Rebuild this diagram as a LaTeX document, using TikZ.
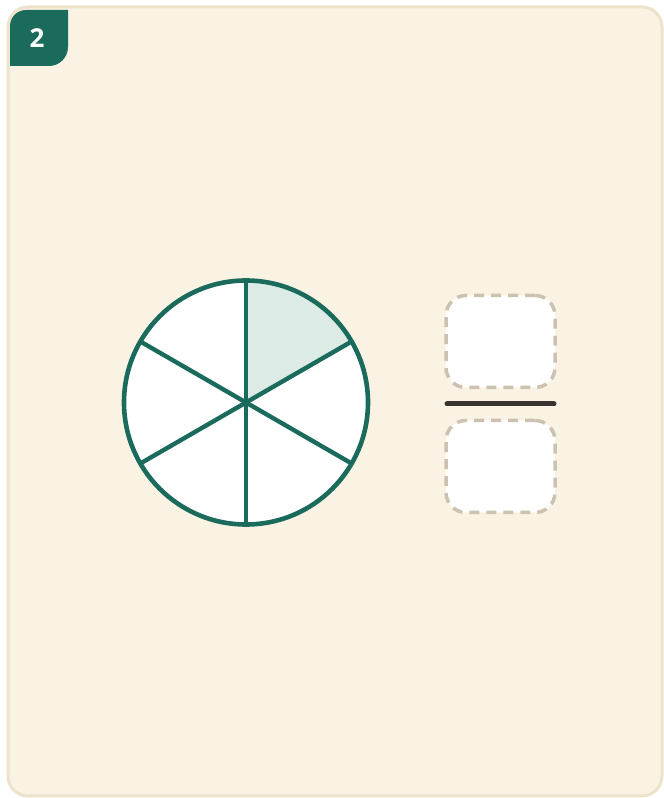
\documentclass[tikz,border=0pt]{standalone}
\usepackage{fontspec}
\setmainfont{Open Sans}
\usepackage{tikz}
\usetikzlibrary{positioning}

\definecolor{cardbg}{HTML}{FAF3E3}
\definecolor{cardrim}{HTML}{EDE3CB}
\definecolor{teal}{HTML}{1A6B5C}
\definecolor{slicebg}{HTML}{DCEBE6}
\definecolor{dashgrey}{HTML}{CCC2B1}
\definecolor{barink}{HTML}{3A3431}

\begin{document}
\begin{tikzpicture}[x=1pt, y=1pt,
    card/.style={draw=cardrim, fill=cardbg, line width=3pt, rounded corners=20pt},
    badge/.style={fill=teal},
    pie/.style={circle, fill=white, inner sep=0pt, outer sep=0pt},
    rim/.style={draw=teal, line width=4.6pt},
    spoke/.style={draw=teal, line width=4.4pt},
    slice/.style={fill=slicebg},
    slot/.style={draw=dashgrey, fill=white, line width=3.5pt, dash pattern=on 10pt off 7pt,
        rounded corners=20pt, minimum width=109pt, minimum height=92pt, inner sep=0pt, outer sep=0pt},
    fracbar/.style={draw=barink, line width=5pt, line cap=round}]
    \useasboundingbox (0,0) rectangle (664,798);

    % card and number badge
    \draw[card] (8,2) rectangle (662,791);
    \fill[badge] (10,732) -- (10,772) arc[start angle=180, end angle=90, radius=16]
        -- (68,788) -- (68,751) arc[start angle=0, end angle=-90, radius=19] -- cycle;
    \node[text=white, font=\fontsize{26}{26}\selectfont\bfseries] (num2) at (37,760) {2};

    % circle in sixths
    \node[pie, minimum size=244pt] (pie) at (246,395.5) {};
    \fill[slice] (pie.center) -- (pie.90) arc[start angle=90, end angle=30, radius=122pt] -- cycle;
    \draw[spoke] (pie.90) -- (pie.270);
    \draw[spoke] (pie.30) -- (pie.210);
    \draw[spoke] (pie.150) -- (pie.330);
    \draw[rim] (pie.center) circle[radius=122pt];

    % empty fraction
    \node[slot] (top) at (500.5,456.5) {};
    \node[slot, below=33pt of top] (bottom) {};
    \coordinate (barl) at (447,394);
    \coordinate (barr) at (554,394);
    \draw[fracbar] (barl) -- (barr);
\end{tikzpicture}
\end{document}
